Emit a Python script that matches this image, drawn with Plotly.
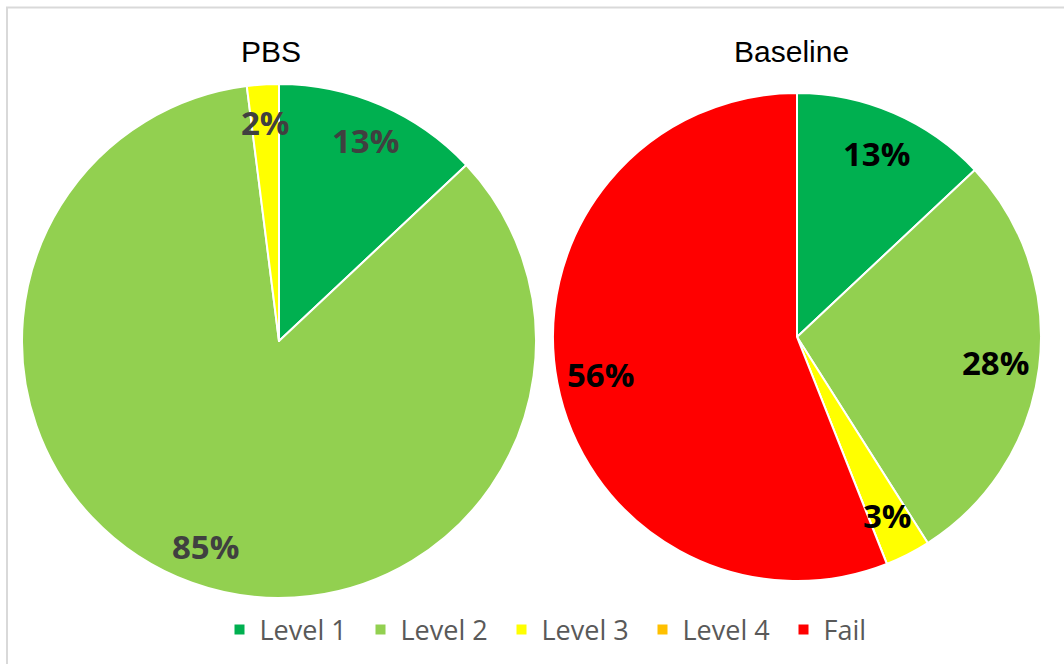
import math
import plotly.graph_objects as go

categories = ["Level 1", "Level 2", "Level 3", "Level 4", "Fail"]
pbs_values = [13, 85, 2, 0, 0]
baseline_values = [13, 28, 3, 0, 56]
titles = ["PBS", "Baseline"]
colors = ["#00B050", "#92D050", "#FFFF00", "#FFC000", "#FF0000"]

W, H = 1064, 664

# pie boxes in pixels (left, top, right, bottom)
boxes = [(22, 84, 536, 598), (553, 93, 1041, 581)]
label_colors = ["#404040", "#000000"]
label_radius = [0.85, 0.82]
title_pos = [(271, 52), (791, 52)]

fig = go.Figure()
for i, vals in enumerate([pbs_values, baseline_values]):
    l, t, r, b = boxes[i]
    fig.add_trace(go.Pie(
        labels=categories, values=vals,
        textinfo="none",
        sort=False, direction="clockwise", rotation=0,
        marker=dict(colors=colors, line=dict(color="white", width=2)),
        domain=dict(x=[l / W, r / W], y=[1 - b / H, 1 - t / H]),
        hoverinfo="label+percent", name=titles[i],
    ))
    # data labels placed at the middle angle of each slice
    cx, cy = (l + r) / 2, (t + b) / 2
    R = min(r - l, b - t) / 2
    total = sum(vals)
    cum = 0
    for v in vals:
        if v > 0:
            mid = (cum + v / 2) / total * 2 * math.pi
            px = cx + label_radius[i] * R * math.sin(mid)
            py = cy - label_radius[i] * R * math.cos(mid)
            fig.add_annotation(x=px / W, y=1 - py / H, xref="paper", yref="paper",
                               text=f"{v}%", showarrow=False,
                               xanchor="center", yanchor="middle",
                               font=dict(family="Open Sans", size=33,
                                         color=label_colors[i], weight="bold"))
        cum += v
    tx, ty = title_pos[i]
    fig.add_annotation(x=tx / W, y=1 - ty / H, xref="paper", yref="paper",
                       text=titles[i], showarrow=False,
                       xanchor="center", yanchor="middle",
                       font=dict(family="Liberation Sans", size=30, color="#000000"))

fig.add_shape(type="rect", xref="paper", yref="paper",
              x0=7 / W, x1=1.01, y0=-0.01, y1=1 - 7.5 / H,
              line=dict(color="#D9D9D9", width=2))

fig.update_layout(
    width=W, height=H,
    margin=dict(l=0, r=0, t=0, b=0),
    paper_bgcolor="white", plot_bgcolor="white",
    showlegend=True,
    legend=dict(orientation="h", x=0.5 + 40 / W, xanchor="center", y=1 - 630 / H, yanchor="middle",
                font=dict(family="Open Sans", size=27, color="#595959"),
                traceorder="normal", itemwidth=30,
                entrywidth=96, entrywidthmode="pixels"),
)

fig.write_html("out.html", config={"displayModeBar": False},
               post_script="document.body.style.margin='0';")
